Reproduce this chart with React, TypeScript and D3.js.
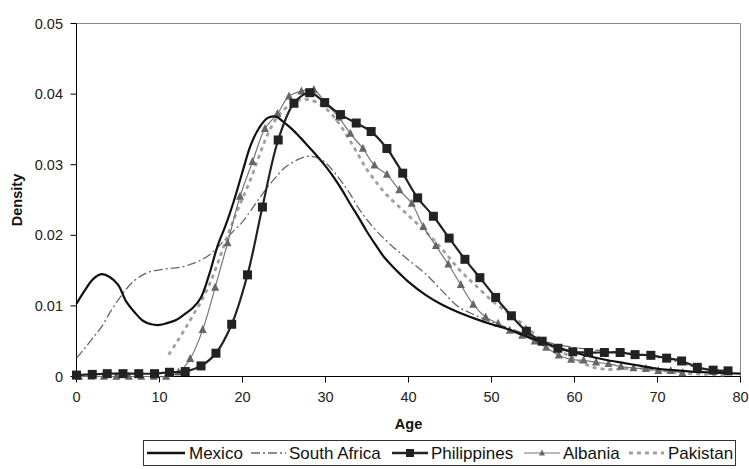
import React from 'react';
import * as d3 from 'd3';

const mexicoAges = [0,1,2,3,4,5,6,7,8,9,10,11,12,13,14,15,16,17,18,19,20,21,22,23,24,25,26,27,28,29,30,31,32,33,34,35,36,37,38,39,40,42,44,46,48,50,52,54,56,58,60,62,64,66,68,70,72,74,76,78,80];
const mexicoValues = [0.0103,0.0122,0.0138,0.0145,0.0141,0.013,0.0106,0.0091,0.0079,0.0074,0.0073,0.0076,0.008,0.0088,0.0097,0.0112,0.0145,0.0185,0.0215,0.025,0.029,0.0328,0.0352,0.0366,0.0368,0.036,0.035,0.0338,0.0325,0.0312,0.0298,0.0282,0.0264,0.0244,0.0225,0.0205,0.0187,0.017,0.0157,0.0145,0.0134,0.0116,0.0102,0.0091,0.0082,0.0074,0.0067,0.0058,0.0049,0.0041,0.0034,0.0028,0.0023,0.0019,0.0015,0.0011,0.0009,0.0007,0.0006,0.0005,0.0004];

const saAges = [0,1,2,3,4,5,6,7,8,9,10,11,12,13,14,15,16,17,18,19,20,21,22,23,24,25,26,27,28,29,30,31,32,33,34,35,36,37,38,39,40,42,44,46,48,50,52,54,56,58,60,62,64,66,68,70,72,74,76,78];
const saValues = [0.0026,0.004,0.0055,0.007,0.009,0.0108,0.0124,0.0136,0.0144,0.0149,0.0151,0.0153,0.0154,0.0156,0.016,0.0165,0.0172,0.0183,0.0195,0.0207,0.0219,0.0235,0.0252,0.0268,0.0282,0.0295,0.0303,0.0309,0.0312,0.031,0.0303,0.029,0.0275,0.0258,0.0238,0.0222,0.0208,0.0196,0.0185,0.0175,0.0165,0.0146,0.0122,0.0099,0.0087,0.0077,0.0069,0.006,0.0051,0.0045,0.0041,0.0038,0.0036,0.0034,0.0031,0.0027,0.0022,0.0015,0.001,0.0007];

const philAges = [0,1.9,3.7,5.6,7.5,9.4,11.2,13.1,15.0,16.8,18.7,20.6,22.4,24.3,26.2,28.1,29.9,31.8,33.7,35.5,37.4,39.3,41.1,43.0,44.9,46.8,48.6,50.5,52.4,54.2,56.1,58.0,59.8,61.7,63.6,65.5,67.3,69.2,71.1,72.9,74.8,76.7,78.5];
const philValues = [0.0002,0.0003,0.0004,0.0004,0.0004,0.0004,0.0006,0.0007,0.0015,0.0033,0.0074,0.0144,0.024,0.0335,0.0387,0.0402,0.0388,0.0371,0.0359,0.0347,0.0323,0.0288,0.0253,0.0227,0.0196,0.0166,0.014,0.0112,0.0086,0.0064,0.005,0.004,0.0035,0.0034,0.0034,0.0034,0.0031,0.003,0.0026,0.0022,0.0013,0.0009,0.0008];

const albAges = [0.3,1.8,3.3,4.8,6.3,7.8,9.3,10.8,12.3,13.7,15.2,16.7,18.2,19.7,21.2,22.7,24.2,25.6,27.1,28.6,30.1,31.6,33.0,34.5,35.9,37.4,38.9,40.4,41.8,43.3,44.8,46.3,47.8,49.3,50.8,52.2,53.7,55.2,56.6,58.1,59.6,61.1,62.6,64.1,65.6,67.1,68.6,70.1,71.6,73.0];
const albValues = [0,0,0,0,0,0,0,0,0.0006,0.0025,0.0066,0.0126,0.0189,0.0255,0.0304,0.0351,0.0372,0.0397,0.0404,0.0406,0.0386,0.0367,0.0344,0.0323,0.0299,0.0286,0.0264,0.0245,0.0212,0.0185,0.0159,0.013,0.0102,0.0084,0.0075,0.0065,0.0058,0.005,0.0041,0.003,0.0024,0.0023,0.002,0.0018,0.0014,0.0012,0.0011,0.0008,0.0008,0.0005];

const pakAges = [11.1,12,13,14,15,16,17,18,19,20,21,22,23,24,25,26,27,28,29,30,31,32,33,34,35,36,37,38,39,40,41,42,43,44,45,46,47,48,50,52,54,56,58,60,62,64,66,68,70,72,74,76,78];
const pakValues = [0.0031,0.0047,0.0066,0.0086,0.0106,0.013,0.016,0.0193,0.0224,0.0252,0.028,0.0312,0.0342,0.0364,0.0378,0.0388,0.0392,0.0392,0.0388,0.038,0.0368,0.0352,0.0333,0.0313,0.0293,0.0277,0.0262,0.025,0.0239,0.0228,0.0217,0.0206,0.0194,0.0181,0.0167,0.0153,0.0141,0.013,0.0108,0.009,0.0072,0.0052,0.0038,0.0025,0.0014,0.001,0.0011,0.0011,0.0009,0.0006,0.0004,0.0003,0.0002];

const xTicks = [0, 10, 20, 30, 40, 50, 60, 70, 80];
const yTicks = [0, 0.01, 0.02, 0.03, 0.04, 0.05];
const seriesNames = ['Mexico', 'South Africa', 'Philippines', 'Albania', 'Pakistan'];

const W = 749, H = 469;
const left = 76.5, right = 740.5, top = 23.5, bottom = 376.5;
const FONT = '"Liberation Sans", Arial, sans-serif';

type P = [number, number];
const zip = (a: number[], b: number[]): P[] => a.map((v, i) => [v, b[i]]);

export default function App() {
  const x = d3.scaleLinear().domain([0, 80]).range([left, right]);
  const y = d3.scaleLinear().domain([0, 0.05]).range([bottom, top]);
  const line = d3.line<P>().x(d => x(d[0])).y(d => y(d[1])).curve(d3.curveCatmullRom.alpha(0.5));

  const mex = zip(mexicoAges, mexicoValues);
  const sa = zip(saAges, saValues);
  const phil = zip(philAges, philValues);
  const alb = zip(albAges, albValues);
  const pak = zip(pakAges, pakValues);

  const tri = (cx: number, cy: number, s: number) =>
    `M${cx},${cy - s * 0.6}L${cx + s / 2},${cy + s * 0.4}L${cx - s / 2},${cy + s * 0.4}Z`;

  // legend layout
  const ly = 453;
  const legendItems = [
    { name: seriesNames[0], x0: 147, x1: 185, tx: 189 },
    { name: seriesNames[1], x0: 251, x1: 286, tx: 289 },
    { name: seriesNames[2], x0: 392, x1: 428, tx: 431 },
    { name: seriesNames[3], x0: 524, x1: 560, tx: 563 },
    { name: seriesNames[4], x0: 629, x1: 664, tx: 668 },
  ];

  return (
    <svg width={W} height={H} style={{ position: 'absolute', left: 0, top: 0, background: '#fff' }} fontFamily={FONT}>
      <rect x={0} y={0} width={W} height={H} fill="#fff" />
      {/* plot frame */}
      <line x1={left} x2={right} y1={top} y2={top} stroke="#888" strokeWidth={1} />
      <line x1={right} x2={right} y1={top} y2={bottom} stroke="#888" strokeWidth={1} />
      {/* y axis */}
      <line x1={left} x2={left} y1={top} y2={bottom} stroke="#000" strokeWidth={1} />
      {yTicks.map(t => (
        <g key={'y' + t}>
          <line x1={left - 6} x2={left} y1={y(t)} y2={y(t)} stroke="#000" />
          <text x={63} y={y(t) + 5} textAnchor="end" fontSize={14.5} fill="#222">
            {t === 0 ? '0' : t.toFixed(2)}
          </text>
        </g>
      ))}
      {/* x axis */}
      <line x1={left} x2={right} y1={bottom} y2={bottom} stroke="#000" strokeWidth={1} />
      {xTicks.map(t => (
        <g key={'x' + t}>
          <line x1={x(t)} x2={x(t)} y1={bottom} y2={bottom + 6} stroke="#000" />
          <text x={x(t)} y={402} textAnchor="middle" fontSize={14.5} fill="#222">{t}</text>
        </g>
      ))}
      <text x={(left + right) / 2} y={429} textAnchor="middle" fontSize={14.5} fontWeight="bold" fill="#111">Age</text>
      <text transform={`translate(22,${(top + bottom) / 2}) rotate(-90)`} textAnchor="middle" fontSize={14.5} fontWeight="bold" fill="#111">Density</text>

      {/* series */}
      <path d={line(sa) || ''} fill="none" stroke="#666" strokeWidth={1.3} strokeDasharray="9,3,2,3" />
      <path d={line(pak) || ''} fill="none" stroke="#a0a0a0" strokeWidth={2.8} strokeDasharray="4,4" />
      <path d={line(alb) || ''} fill="none" stroke="#777" strokeWidth={1.2} />
      {alb.map((d, i) => (
        <path key={'a' + i} d={tri(x(d[0]), y(d[1]), 8)} fill="#666" />
      ))}
      <path d={line(mex) || ''} fill="none" stroke="#111" strokeWidth={2.2} />
      <path d={line(phil) || ''} fill="none" stroke="#222" strokeWidth={2.2} />
      {phil.map((d, i) => (
        <rect key={'p' + i} x={x(d[0]) - 4.5} y={y(d[1]) - 4.5} width={9} height={9} fill="#222" />
      ))}

      {/* legend */}
      <rect x={143.5} y={440.5} width={592} height={25} fill="#fff" stroke="#333" strokeWidth={1} />
      <line x1={legendItems[0].x0} x2={legendItems[0].x1} y1={ly} y2={ly} stroke="#111" strokeWidth={2.5} />
      <line x1={legendItems[1].x0} x2={legendItems[1].x1} y1={ly} y2={ly} stroke="#666" strokeWidth={1.3} strokeDasharray="9,3,2,3" />
      <line x1={legendItems[2].x0} x2={legendItems[2].x1} y1={ly} y2={ly} stroke="#222" strokeWidth={2.5} />
      <rect x={(legendItems[2].x0 + legendItems[2].x1) / 2 - 4} y={ly - 4} width={8} height={8} fill="#222" />
      <line x1={legendItems[3].x0} x2={legendItems[3].x1} y1={ly} y2={ly} stroke="#777" strokeWidth={1.2} />
      <path d={tri((legendItems[3].x0 + legendItems[3].x1) / 2, ly, 6)} fill="#666" />
      <line x1={legendItems[4].x0} x2={legendItems[4].x1} y1={ly} y2={ly} stroke="#a0a0a0" strokeWidth={3} strokeDasharray="4,4" />
      {legendItems.map(it => (
        <text key={it.name} x={it.tx} y={ly + 6} fontSize={17} fill="#111">{it.name}</text>
      ))}
    </svg>
  );
}
